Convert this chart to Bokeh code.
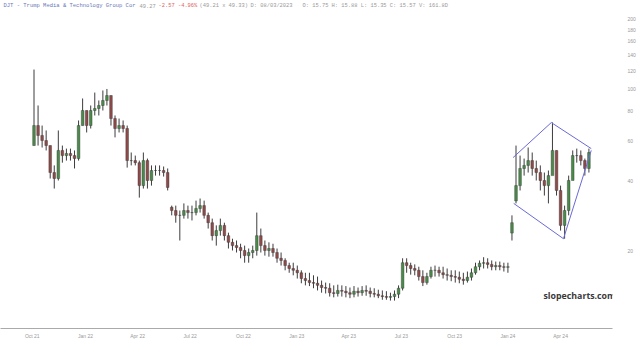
import pandas as pd
from datetime import datetime
from bokeh.plotting import figure
from bokeh.models import Range1d, FixedTicker, PrintfTickFormatter, Label, MonthsTicker, DatetimeTickFormatter
from bokeh.embed import file_html
from bokeh.resources import INLINE

# ---- weekly OHLC (week starting dates from 2021-10-04) ----
first_open = 57.1
# opens of weeks that gapped away from the previous close (week index -> open)
gap_opens = {34: 31.0, 118: 24.0, 119: 33.0}
high = [121.2, 84.9, 69.6, 66.3, 57.1, 46.9, 66.3, 57.1, 55.4, 55.4,
        54.4, 73.2, 91.0, 80.8, 84.9, 96.5, 89.2, 98.5, 100.0, 93.7,
        76.9, 74.6, 73.2, 69.6, 53.3, 51.7, 49.2, 53.3, 50.2, 46.9,
        46.9, 46.9, 46.4, 45.5, 31.5, 31.5, 30.0, 32.2, 31.5, 31.5,
        33.1, 33.8, 33.1, 29.4, 27.7, 25.9, 27.7, 26.6, 24.1, 22.7,
        22.3, 21.6, 21.2, 20.6, 21.2, 29.4, 25.1, 22.3, 21.9, 21.6,
        20.6, 19.8, 18.7, 17.9, 17.9, 17.4, 16.6, 16.2, 16.2, 15.8,
        15.6, 15.0, 14.7, 14.6, 14.3, 14.4, 14.3, 14.2, 14.0, 14.2,
        14.0, 14.2, 14.3, 14.0, 13.9, 13.7, 13.6, 13.5, 13.3, 13.6,
        14.3, 18.7, 18.7, 17.9, 17.6, 17.2, 16.6, 16.2, 17.2, 17.4,
        17.2, 17.2, 16.9, 16.6, 16.6, 16.4, 16.2, 16.4, 16.9, 17.9,
        18.3, 18.9, 18.7, 18.3, 18.1, 18.1, 17.9, 17.9, 28.6, 57.1,
        51.7, 50.2, 56.0, 53.3, 49.2, 46.9, 43.7, 44.6, 71.8, 54.4,
        38.4, 31.5, 42.4, 54.4, 55.4, 54.4, 50.2, 55.4]
low = [57.1, 57.1, 56.0, 54.4, 41.2, 37.3, 40.4, 48.2, 49.2, 49.2,
       45.5, 49.2, 69.6, 65.0, 67.6, 76.9, 76.9, 80.8, 84.9, 69.6,
       61.9, 65.0, 65.0, 45.9, 46.9, 46.9, 34.1, 37.3, 37.3, 38.4,
       42.4, 42.4, 42.0, 36.6, 28.6, 26.6, 22.3, 27.7, 27.7, 27.2,
       28.6, 29.4, 27.7, 25.1, 22.3, 21.2, 23.4, 22.3, 20.6, 20.2,
       19.8, 18.7, 17.9, 17.9, 18.7, 19.2, 19.8, 19.2, 19.0, 19.0,
       17.9, 17.4, 16.6, 16.2, 15.8, 15.3, 14.6, 14.3, 14.2, 13.9,
       13.6, 13.3, 13.2, 12.8, 12.7, 12.8, 12.8, 12.7, 12.6, 12.7,
       12.8, 12.9, 12.9, 12.7, 12.7, 12.6, 12.4, 12.4, 12.3, 12.3,
       12.6, 13.6, 16.2, 15.9, 15.8, 15.0, 14.2, 14.4, 15.3, 15.6,
       15.6, 15.3, 15.0, 14.9, 14.7, 14.6, 14.4, 14.7, 15.0, 15.9,
       16.6, 16.9, 16.9, 16.6, 16.6, 16.6, 16.4, 16.2, 22.3, 32.2,
       36.6, 42.4, 43.7, 42.4, 40.4, 36.6, 34.8, 32.2, 46.9, 34.8,
       24.6, 22.7, 28.6, 41.2, 48.2, 46.9, 42.4, 43.7]
close = [69.6, 63.1, 60.0, 57.1, 43.7, 41.2, 54.4, 51.7, 52.8, 51.7,
         50.2, 69.6, 80.8, 69.6, 80.8, 82.4, 84.9, 89.2, 93.7, 74.6,
         67.6, 69.6, 67.6, 49.2, 49.2, 48.2, 38.4, 49.2, 40.4, 44.6,
         44.6, 44.6, 43.7, 37.7, 30.0, 28.6, 28.6, 30.0, 29.4, 29.4,
         30.6, 31.5, 28.6, 26.6, 23.4, 24.6, 25.9, 23.4, 21.9, 21.2,
         20.8, 20.2, 19.2, 19.8, 20.2, 23.4, 21.2, 20.2, 20.6, 19.8,
         18.7, 18.3, 17.4, 16.9, 16.6, 16.2, 15.3, 15.0, 14.7, 14.6,
         14.3, 14.0, 13.9, 13.3, 13.2, 13.6, 13.5, 13.3, 13.1, 13.5,
         13.3, 13.6, 13.5, 13.2, 13.1, 12.9, 12.8, 12.7, 12.8, 13.1,
         13.9, 17.9, 17.4, 16.9, 16.6, 15.6, 14.7, 15.6, 16.6, 16.6,
         16.2, 15.9, 15.8, 15.6, 15.5, 15.2, 15.0, 15.5, 16.2, 17.2,
         17.8, 17.9, 17.6, 17.2, 17.4, 17.2, 17.1, 17.2, 26.6, 38.4,
         45.5, 46.9, 49.2, 45.5, 43.7, 40.4, 38.4, 42.4, 54.4, 36.6,
         25.9, 30.0, 40.4, 51.7, 51.7, 49.2, 45.5, 53.3]

# pattern (wedge) lines drawn on the chart
upper_dates = ["2024-01-10", "2024-03-16", "2024-05-24"]
upper_vals = [50.7, 71.7, 55.4]
lower_dates = ["2024-01-11", "2024-04-06", "2024-05-24"]
lower_vals = [32.2, 22.7, 54.4]

y_ticks = [20, 40, 60, 80, 100, 120, 140, 160, 180, 200]

dates = pd.date_range("2021-10-04", periods=len(close), freq="7D")
opens = [first_open] + close[:-1]
for k, v in gap_opens.items():
    opens[k] = v

p = figure(width=640, height=342, x_axis_type="datetime", y_axis_type="log",
           y_axis_location="right", output_backend="svg", toolbar_location=None,
           x_range=Range1d(datetime(2021, 8, 7, 2), datetime(2024, 6, 29, 18)),
           y_range=Range1d(9.33, 240.1),
           min_border_left=0, min_border_top=0, min_border_right=28, min_border_bottom=14)
p.outline_line_color = None
p.xgrid.visible = False
p.ygrid.visible = False
p.background_fill_color = "white"
p.border_fill_color = "white"

inc = [c >= o for o, c in zip(opens, close)]
top = [max(o, c) for o, c in zip(opens, close)]
bot = [min(o, c) for o, c in zip(opens, close)]
cols = ["#4a8a4a" if u else "#8f4a4a" for u in inc]

p.segment(x0=dates, y0=high, x1=dates, y1=low, line_color="#3d3d3d", line_width=1)
p.vbar(x=dates, width=4.6 * 24 * 3600 * 1000, top=top, bottom=bot,
       fill_color=cols, line_color="#333333", line_width=0.4)

p.line(x=pd.to_datetime(upper_dates), y=upper_vals, line_color="#6a6ad8", line_width=1)
p.line(x=pd.to_datetime(lower_dates), y=lower_vals, line_color="#6a6ad8", line_width=1)

# axes
yax = p.yaxis[0]
yax.ticker = FixedTicker(ticks=y_ticks)
yax.formatter = PrintfTickFormatter(format="%d")
yax.axis_line_color = None
yax.major_tick_line_color = None
yax.minor_tick_line_color = None
yax.major_tick_out = 0
yax.minor_tick_out = 0
yax.major_label_text_font_size = "5px"
yax.major_label_text_color = "#999999"
yax.major_label_standoff = 15

xax = p.xaxis[0]
xax.ticker = MonthsTicker(months=[0, 3, 6, 9])
xax.formatter = DatetimeTickFormatter(months="%b %y", days="%b %y", years="%b %y")
xax.axis_line_color = "#aaaaaa"
xax.major_tick_line_color = None
xax.minor_tick_line_color = None
xax.major_tick_out = 0
xax.minor_tick_out = 0
xax.major_label_text_font_size = "5px"
xax.major_label_text_color = "#999999"
xax.major_label_standoff = 4

# header texts
ty = 323
hdr = [
    (3, "DJT - Trump Media & Technology Group Cor", "#6a78b8", "5.5px"),
    (139, "49.27", "#999999", "5.4px"),
    (158, "-2.57 -4.96%", "#e06060", "5.4px"),
    (199, "(49.21 x 49.33)", "#999999", "5.4px"),
    (250, "D:  08/03/2023", "#999999", "5.4px"),
    (302, "O:  15.75 H:  15.88 L:  15.35 C:  15.57 V:  161.8D", "#999999", "5.4px"),
]
for x, t, c, fs in hdr:
    p.add_layout(Label(x=x, y=ty, x_units="screen", y_units="screen", text=t,
                       text_font="Liberation Mono", text_font_size=fs,
                       text_color=c, text_baseline="middle"))

p.add_layout(Label(x=543, y=33, x_units="screen", y_units="screen", text="slopecharts.com",
                   text_font="Open Sans", text_font_style="bold", text_font_size="8.8px",
                   text_color="#3a3a3a", text_baseline="middle"))

open("out.html", "w").write(file_html(p, INLINE))
